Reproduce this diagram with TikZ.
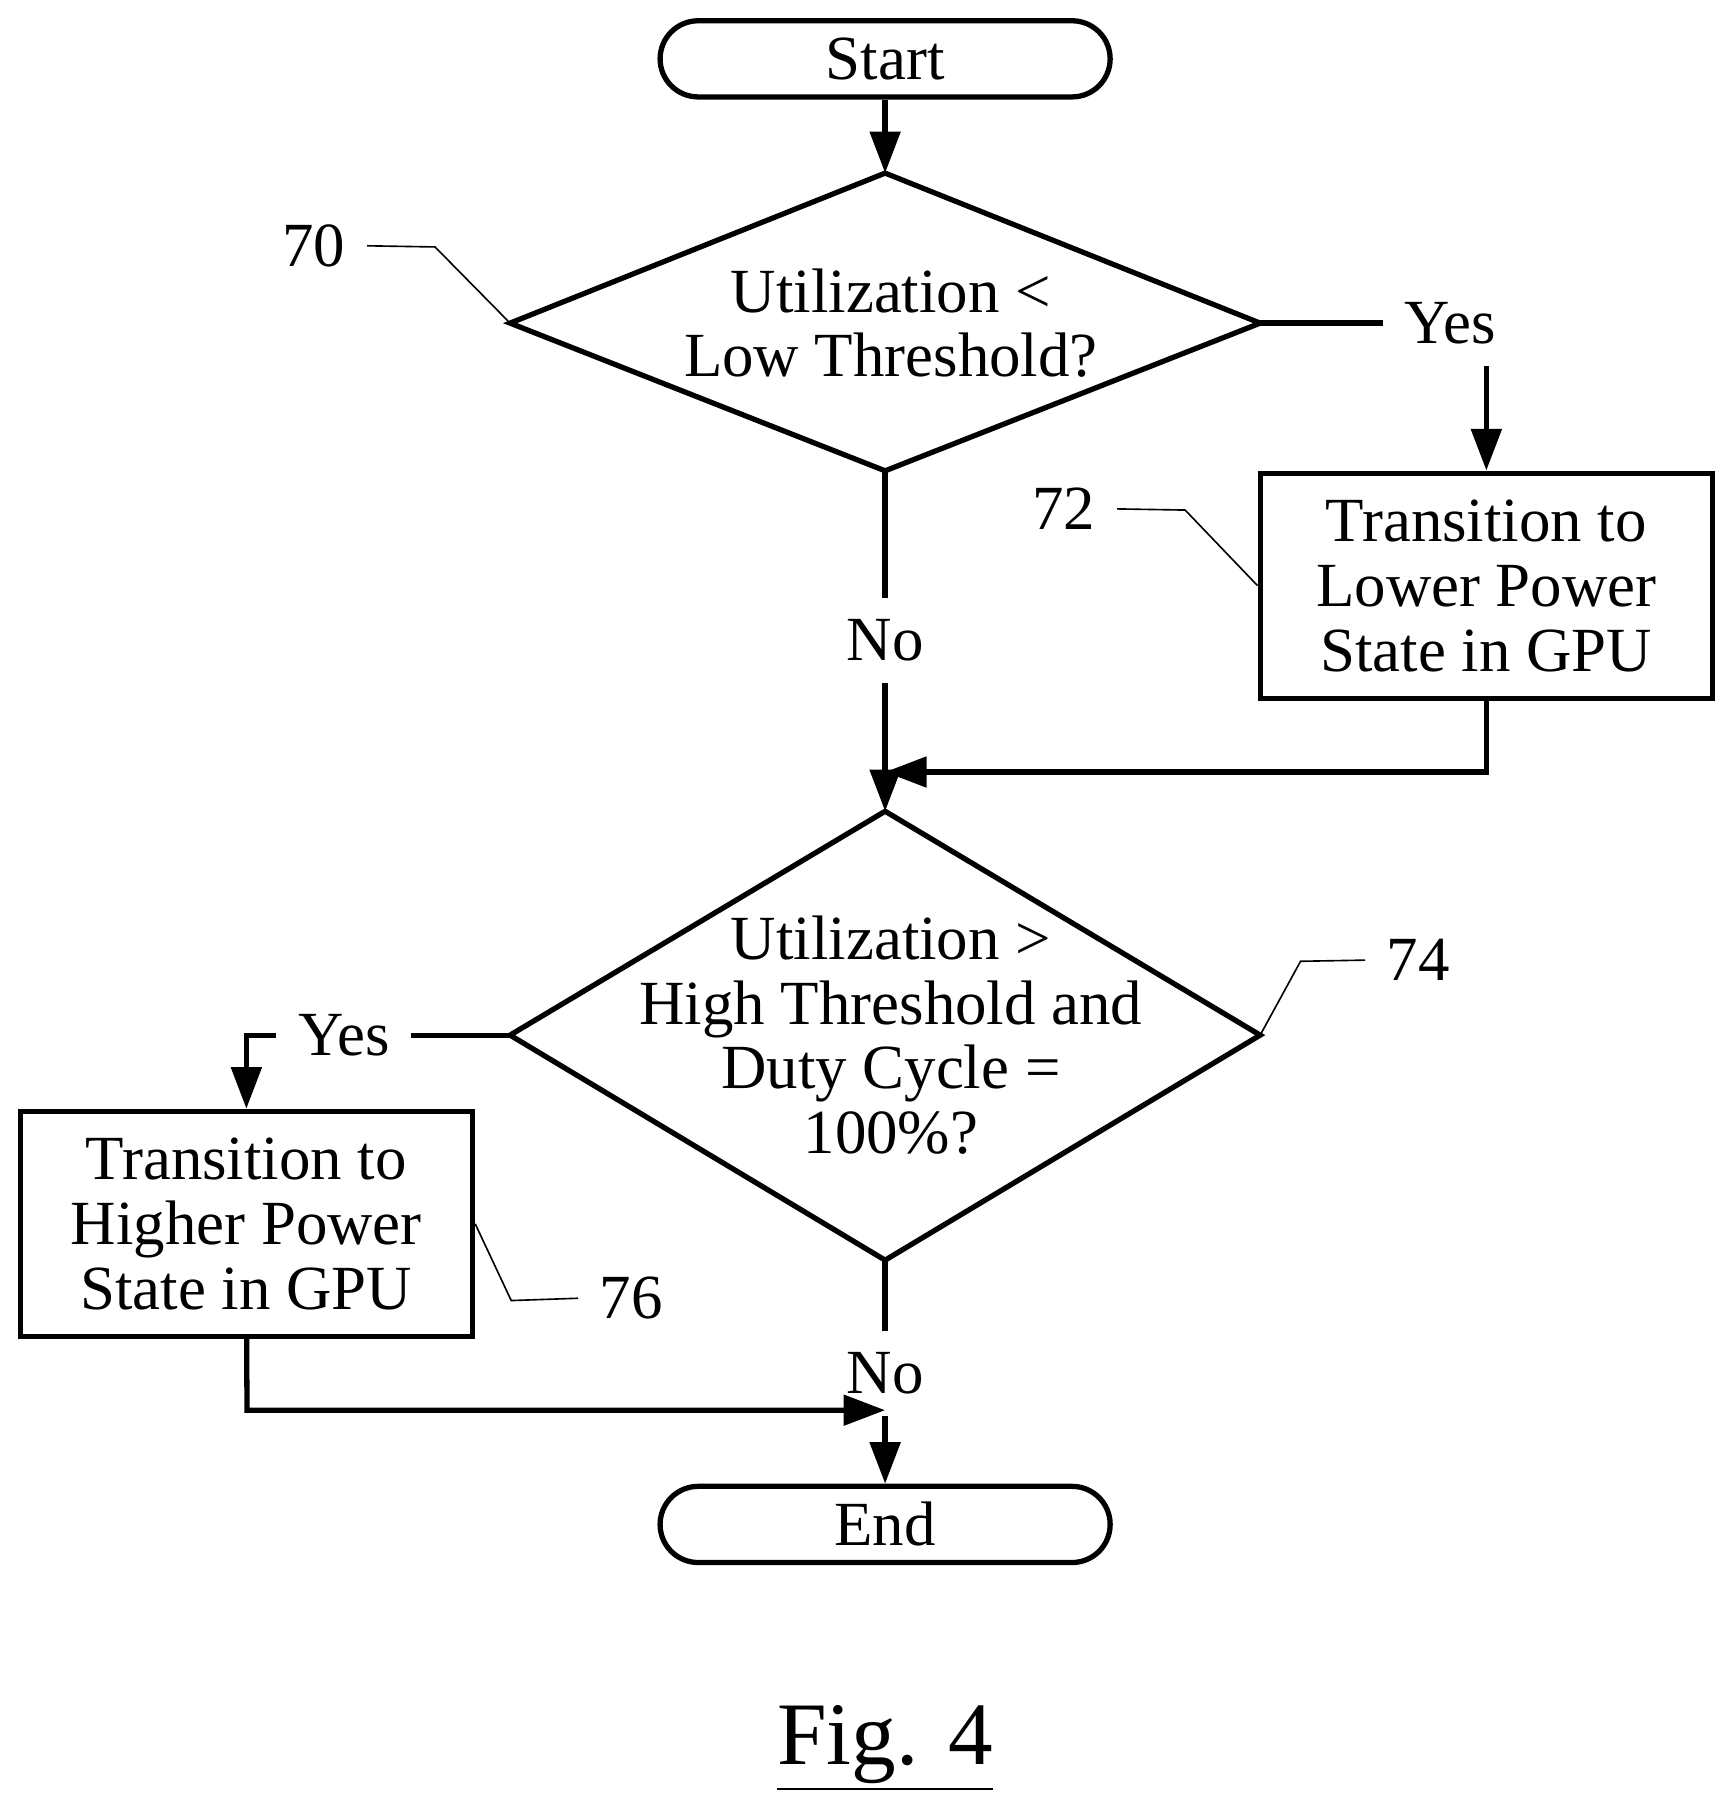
\documentclass[tikz,border=0pt]{standalone}
\usepackage{fontspec}
\setmainfont{Liberation Serif}
\usetikzlibrary{arrows.meta,positioning}
\tikzset{
  flow/.style={line width=1.3pt},
  arr/.style={flow, -{Triangle[length=0.36cm,width=0.26cm]}},
  lead/.style={line width=0.4pt},
  term/.style={draw, line width=1.3pt, rounded corners=0.33cm, minimum width=3.9cm, minimum height=0.66cm, inner sep=0},
  proc/.style={draw, line width=1.3pt, minimum width=3.92cm, minimum height=1.95cm, align=center, inner sep=0},
  txt/.style={fill=white, inner sep=1pt, align=center}
}
\begin{document}
\fontsize{15.5}{18}\selectfont
\begin{tikzpicture}[x=1cm,y=-1cm]
  \useasboundingbox (0,0) rectangle (15,15.65);

  \node[term] (start) at (7.67,0.51) {Start};
  \node[term] (end) at (7.67,13.21) {End};

  % first decision
  \coordinate (d1t) at (7.67,1.50);
  \coordinate (d1b) at (7.67,4.08);
  \coordinate (d1l) at (4.42,2.80);
  \coordinate (d1r) at (10.92,2.80);
  \draw[flow] (d1t) -- (d1r) -- (d1b) -- (d1l) -- cycle;
  \node[align=center] (q1) at (7.72,2.80) {Utilization <\\[-2pt]Low Threshold?};

  % second decision
  \coordinate (d2t) at (7.67,7.03);
  \coordinate (d2b) at (7.67,10.92);
  \coordinate (d2l) at (4.42,8.97);
  \coordinate (d2r) at (10.92,8.97);
  \draw[flow] (d2t) -- (d2r) -- (d2b) -- (d2l) -- cycle;
  \node[align=center] (q2) at (7.72,8.97) {Utilization >\\[-2pt]High Threshold and\\[-2pt]Duty Cycle =\\[-2pt]100\%?};

  \node[proc] (lower) at (12.88,5.075) {Transition to\\[-2pt]Lower Power\\[-2pt]State in GPU};
  \node[proc] (higher) at (2.135,10.605) {Transition to\\[-2pt]Higher Power\\[-2pt]State in GPU};

  \draw[arr] (start) -- (d1t);

  % yes / no branches
  \node (yes1) at (12.57,2.80) {Yes};
  \draw[flow] (d1r) -- (yes1.west);
  \draw[arr] (yes1.south -| lower.north) -- (lower);
  \node (no1) at (7.67,5.55) {No};
  \draw[flow] (d1b) -- (no1);
  \draw[arr] (no1) -- (d2t);
  \coordinate (m1) at (12.88,6.69);
  \draw[arr] (lower) -- (m1) -- (7.67,6.69);

  \node (yes2) at (2.98,8.97) {Yes};
  \draw[flow] (d2l) -- (yes2.east);
  \draw[arr] (yes2.west) -| (higher);
  \node (no2) at (7.67,11.90) {No};
  \draw[flow] (d2b) -- (no2);
  \draw[arr] (no2) -- (end);
  \coordinate (m2) at (2.14,12.22);
  \draw[arr] (higher) -- (m2) -- (7.67,12.22);

  % reference numerals
  \node (n70) at (2.72,2.13) {70};
  \draw[lead] (n70.east) -- (3.77,2.14) -- (d1l);
  \node (n72) at (9.22,4.41) {72};
  \draw[lead] (n72.east) -- (10.27,4.42) -- (lower.west);
  \node (n74) at (12.29,8.32) {74};
  \draw[lead] (d2r) -- (11.27,8.33) -- (n74.west);
  \node (n76) at (5.47,11.25) {76};
  \draw[lead] (higher.east) -- (4.43,11.27) -- (n76.west);

  \node (fig) at (7.67,15.15) {\fontsize{22}{26}\selectfont\underline{Fig. 4}};
\end{tikzpicture}
\end{document}
